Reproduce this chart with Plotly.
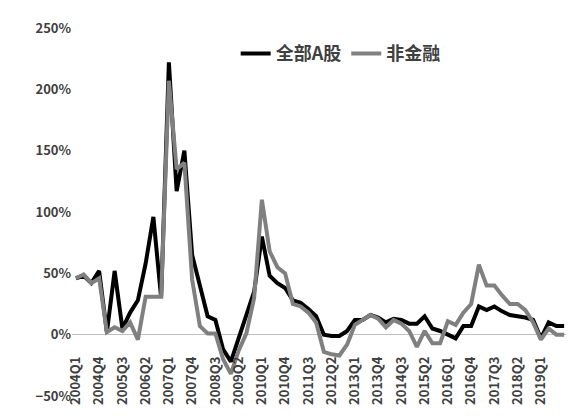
import plotly.graph_objects as go

quarters = [f"{y}Q{q}" for y in range(2004, 2020) for q in range(1, 5)]
all_a = [46,48,42,52,2,52,5,18,28,58,96,30,222,117,150,65,40,15,12,-12,-22,-3,14,35,80,48,42,38,28,26,21,15,0,-1,-1,3,12,12,16,14,10,13,12,9,9,15,5,3,0,-3,7,7,23,20,23,19,16,15,14,12,-3,10,7,7]
non_fin = [46,49,42,46,2,6,3,10,-4,31,31,31,207,135,140,45,7,1,1,-20,-32,-13,1,30,110,68,55,50,25,23,18,10,-14,-16,-17,-8,8,12,16,13,6,12,9,3,-10,3,-7,-7,11,8,18,25,57,40,40,32,25,25,20,10,-4,5,0,0]
tick_labels = quarters[:61:3]

fig = go.Figure()
fig.add_trace(go.Scatter(x=quarters, y=all_a, name="全部A股", mode="lines",
                         line=dict(color="#000000", width=4)))
fig.add_trace(go.Scatter(x=quarters, y=non_fin, name="非金融", mode="lines",
                         line=dict(color="#808080", width=4)))
font = "Noto Sans CJK SC"
fig.update_layout(
    width=574, height=419, plot_bgcolor="white", paper_bgcolor="white",
    margin=dict(l=64, r=14, t=20, b=31),
    font=dict(family=font, size=13, color="#404040"),
    legend=dict(orientation="h", x=0.33, y=0.93, xanchor="left", yanchor="middle",
                font=dict(size=18, color="#404040", family=font, weight="bold"),
                bgcolor="rgba(0,0,0,0)"),
    showlegend=True,
)
fig.update_xaxes(tickmode="array", tickvals=tick_labels, ticktext=tick_labels,
                 tickangle=-90, showgrid=False, showline=False, ticks="",
                 anchor="free", position=0.117, automargin=False,
                 tickfont=dict(size=13, weight="bold", color="#404040"),
                 range=[-0.5, 63.5])
fig.update_yaxes(range=[-50, 250], dtick=50, ticksuffix="%", showgrid=False,
                 automargin=False,
                 zeroline=True, zerolinecolor="#c0c0c0", zerolinewidth=1,
                 tickfont=dict(size=13, weight="bold", color="#404040"))
fig.write_html("out.html")
